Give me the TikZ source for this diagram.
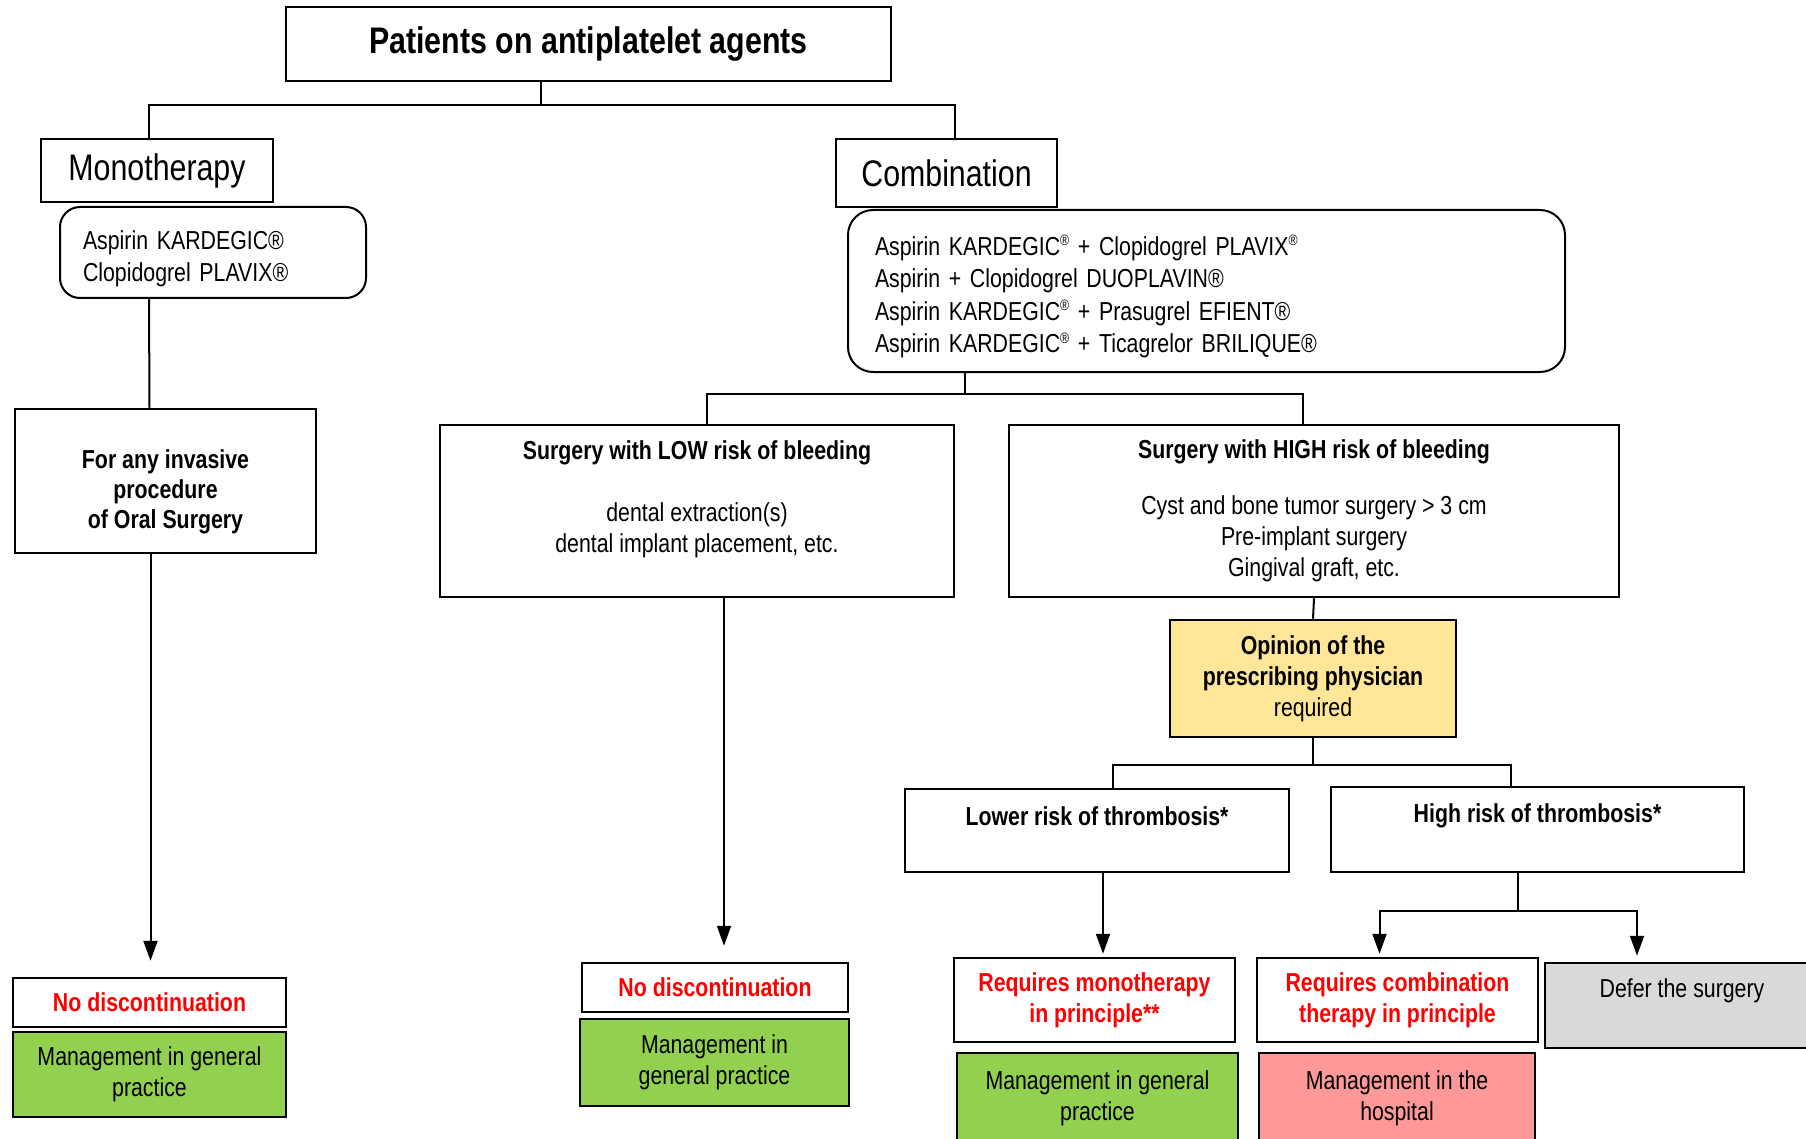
\documentclass[tikz,border=0pt]{standalone}
\usepackage{fontspec}
\setmainfont{Liberation Sans}[FakeStretch=0.82]
\usetikzlibrary{arrows.meta}
\usetikzlibrary{positioning}
\definecolor{mgmtgreen}{HTML}{92D050}
\definecolor{opinionyellow}{HTML}{FFE699}
\definecolor{hospitalpink}{HTML}{FF9999}
\definecolor{defergray}{HTML}{D9D9D9}
\newcommand{\regsup}{\raisebox{9.5pt}{\fontsize{15}{15}\selectfont ®}}

\begin{document}
\begin{tikzpicture}[x=1pt, y=-1pt,
		box/.style={draw, line width=2.5pt, align=center, font=\fontsize{26}{31}\selectfont},
		head/.style={box, font=\fontsize{37}{44}\selectfont},
		warn/.style={box, text=red, font=\fontsize{26}{31}\selectfont\bfseries},
		listbox/.style={draw, line width=2pt, rounded corners=20pt, align=left, font=\fontsize{26}{32.5}\selectfont},
		conn/.style={line width=2pt},
		arr/.style={conn, -{Triangle[length=20pt, width=14pt]}}]
		\path[use as bounding box] (0,0) rectangle (1806,1139);
		\clip (0,0) rectangle (1806,1139);
		% top of the tree
		\node[head, minimum width=605pt, minimum height=74pt, font=\fontsize{37}{44}\selectfont\bfseries] (title) at (588.5,44) {Patients on antiplatelet agents};
		\node[head, minimum width=232pt, minimum height=63pt] (mono) at (157,170.5) {Monotherapy};
		\node[head, minimum width=221pt, minimum height=68pt] (combi) at (946.5,173) {Combination};
		\node[listbox, text width=260pt, inner xsep=23pt, minimum height=91pt] (monoList) at (213,252.5) {\mbox{}\\[-1.5pt]Aspirin KARDEGIC®\\Clopidogrel PLAVIX®};
		\node[listbox, rounded corners=25pt, text width=663pt, inner xsep=27pt, minimum height=162pt] (combiList) at (1206.5,291) {\mbox{}\\[-1.5pt]Aspirin KARDEGIC\regsup{} + Clopidogrel PLAVIX\regsup\\Aspirin + Clopidogrel DUOPLAVIN®\\Aspirin KARDEGIC\regsup{} + Prasugrel EFIENT®\\Aspirin KARDEGIC\regsup{} + Ticagrelor BRILIQUE®};
		% monotherapy branch
		\node[box, minimum width=301pt, minimum height=144pt, font=\fontsize{26}{30}\selectfont\bfseries] (invasive) at (165.5,481) {\mbox{}\\[10pt]For any invasive\\procedure\\of Oral Surgery};
		\node[warn, minimum width=273pt, minimum height=49pt] (noDiscL) at (149.5,1002.5) {No discontinuation};
		\node[box, fill=mgmtgreen, minimum width=273pt, minimum height=85pt] (mgmtL) at (149.5,1074.5) {Management in general\\practice};
		% combination branch
		\node[box, minimum width=514pt, minimum height=172pt] (low) at (697,511) {\textbf{Surgery with LOW risk of bleeding}\\[31pt]dental extraction(s)\\dental implant placement, etc.\\[-3pt]\mbox{}};
		\node[box, minimum width=610pt, minimum height=172pt] (high) at (1314,511) {\textbf{Surgery with HIGH risk of bleeding}\\[25pt]Cyst and bone tumor surgery > 3 cm\\Pre-implant surgery\\Gingival graft, etc.};
		\node[warn, minimum width=266pt, minimum height=49pt] (noDiscM) at (715,987.5) {No discontinuation};
		\node[box, fill=mgmtgreen, minimum width=269pt, minimum height=87pt] (mgmtM) at (714.5,1062.5) {Management in\\general practice};
		\node[box, fill=opinionyellow, minimum width=286pt, minimum height=117pt] (opinion) at (1313,678.5) {\textbf{Opinion of the}\\\textbf{prescribing physician}\\required};
		\node[box, minimum width=384pt, minimum height=83pt] (lowerRisk) at (1097,830.5) {\textbf{Lower risk of thrombosis*}\\[-2pt]\mbox{}};
		\node[box, minimum width=413pt, minimum height=85pt] (highRisk) at (1537.5,829.5) {\textbf{High risk of thrombosis*}\\[2pt]\mbox{}};
		\node[warn, minimum width=281pt, minimum height=84pt] (reqMono) at (1094.5,1000) {Requires monotherapy\\in principle**};
		\node[warn, minimum width=281pt, minimum height=84pt] (reqCombi) at (1397.5,1000) {Requires combination\\therapy in principle};
		\node[box, fill=defergray, minimum width=274pt, minimum height=85pt] (defer) at (1682,1005.5) {Defer the surgery\\[3.5pt]\mbox{}};
		\node[box, fill=mgmtgreen, minimum width=281pt, minimum height=90pt] (mgmtR) at (1097.5,1098) {Management in general\\practice};
		\node[box, fill=hospitalpink, minimum width=276pt, minimum height=90pt] (mgmtH) at (1397,1098) {Management in the\\hospital};
		% connectors
		\draw[conn] ([xshift=-48]title.south) -- ++(0,23) coordinate (splitTop);
		\draw[conn] (splitTop) -| ([xshift=-8]mono.north);
		\draw[conn] (splitTop) -| ([xshift=8]combi.north);
		\draw[conn] ([xshift=-64]monoList.south) -- ([xshift=-16]invasive.north);
		\draw[arr, shorten >=16pt] ([xshift=-15]invasive.south) -- ([xshift=1]noDiscL.north);
		\draw[conn] ([xshift=-241.5]combiList.south) -- ++(0,21) coordinate (splitSurg);
		\draw[conn] (splitSurg) -| ([xshift=10]low.north);
		\draw[conn] (splitSurg) -| ([xshift=-11]high.north);
		\draw[arr, shorten >=16pt] ([xshift=27]low.south) -- ([xshift=9]noDiscM.north);
		\draw[conn] (high.south) -- (opinion.north);
		\draw[conn] (opinion.south) -- ++(0,27) coordinate (splitThromb);
		\draw[conn] (splitThromb) -| ([xshift=16]lowerRisk.north);
		\draw[conn] (splitThromb) -| ([xshift=-27]highRisk.north);
		\draw[arr, shorten >=3pt] ([xshift=6]lowerRisk.south) -- ([xshift=6]lowerRisk.south |- reqMono.north);
		\draw[conn] ([xshift=-20]highRisk.south) -- ++(0,38) coordinate (splitHigh);
		\draw[arr, shorten >=3pt] (splitHigh) -| ([xshift=-18]reqCombi.north);
		\draw[arr, shorten >=6pt] (splitHigh) -| ([xshift=-45]defer.north);
	\end{tikzpicture}
\end{document}
